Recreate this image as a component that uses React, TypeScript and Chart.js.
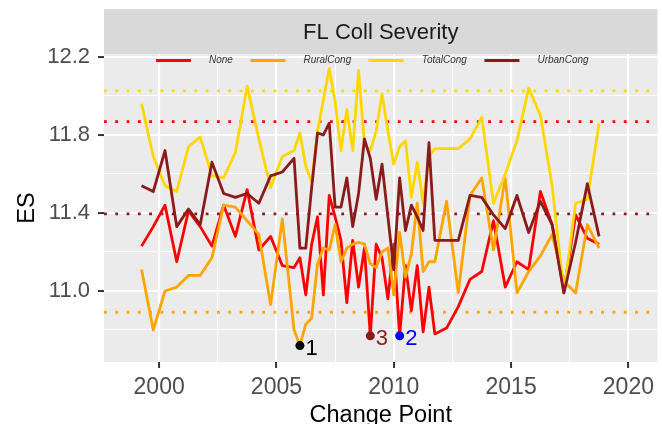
import React, { useEffect, useRef } from 'react';
import { Chart, registerables } from 'chart.js';

Chart.register(...registerables);

// ---------- data ----------
const years = [
  1999.25, 1999.75, 2000.25, 2000.75, 2001.25, 2001.75, 2002.25, 2002.75, 2003.25, 2003.75,
  2004.25, 2004.75, 2005.25, 2005.75,
  2006.0, 2006.25, 2006.5, 2006.75, 2007.0, 2007.25, 2007.5, 2007.75, 2008.0, 2008.25,
  2008.5, 2008.75, 2009.0, 2009.25, 2009.5, 2009.75, 2010.0, 2010.25, 2010.5, 2010.75,
  2011.0, 2011.25, 2011.5, 2011.75,
  2012.25, 2012.75, 2013.25, 2013.75, 2014.25, 2014.75, 2015.25, 2015.75, 2016.25, 2016.75,
  2017.25, 2017.75, 2018.25, 2018.75,
];

const noneValues = [
  11.23, 11.33, 11.44, 11.15, 11.41, 11.33, 11.23, 11.44, 11.28, 11.52, 11.21, 11.28, 11.13, 11.12,
  11.17, 10.98, 11.24, 11.38, 10.98, 11.49, 11.38, 11.26, 10.94, 11.26, 11.02, 11.22, 10.77, 11.24,
  11.17, 10.96, 11.24, 10.77, 11.13, 10.90, 11.13, 10.79, 11.02, 10.78,
  10.81, 10.92, 11.06, 11.10, 11.36, 11.02, 11.15, 11.11, 11.51, 11.34, 11.00, 11.39, 11.27, 11.24,
];

const ruralValues = [
  11.11, 10.80, 11.00, 11.02, 11.08, 11.08, 11.17, 11.44, 11.43, 11.36, 11.29, 10.93, 11.37, 10.80,
  10.72, 10.83, 10.86, 11.14, 11.22, 11.21, 11.34, 11.15, 11.22, 11.24, 11.25, 11.24, 11.14, 11.12,
  11.20, 11.22, 10.98, 11.30, 11.07, 11.19, 11.45, 11.10, 11.15, 11.15,
  11.46, 10.99, 11.49, 11.58, 11.21, 11.58, 10.99, 11.10, 11.18, 11.29, 11.05, 10.99, 11.34, 11.22,
];

const totalValues = [
  11.96, 11.69, 11.54, 11.51, 11.74, 11.79, 11.59, 11.58, 11.71, 12.05, 11.78, 11.53, 11.69, 11.72,
  11.81, 11.64, 11.56, 11.82, 11.98, 12.14, 11.97, 11.72, 11.93, 11.72, 12.13, 11.75, 11.72, 11.82,
  12.01, 11.82, 11.65, 11.74, 11.77, 11.48, 11.66, 11.45, 11.69, 11.73,
  11.73, 11.73, 11.78, 11.89, 11.45, 11.60, 11.77, 12.04, 11.90, 11.54, 10.99, 11.45, 11.47, 11.86,
];

const urbanValues = [
  11.54, 11.51, 11.72, 11.33, 11.42, 11.34, 11.66, 11.50, 11.48, 11.50, 11.45, 11.59, 11.61, 11.68,
  11.22, 11.22, 11.53, 11.81, 11.80, 11.86, 11.43, 11.43, 11.58, 11.33, 11.50, 11.78, 11.68, 11.47,
  11.65, 11.38, 11.11, 11.58, 11.31, 11.44, 11.38, 11.31, 11.76, 11.26,
  11.26, 11.26, 11.49, 11.48, 11.39, 11.32, 11.49, 11.30, 11.46, 11.34, 10.99, 11.25, 11.55, 11.28,
];

const seriesNames = ['None', 'RuralCong', 'TotalCong', 'UrbanCong'];
const seriesColors = ['#FF0000', '#FFA500', '#FFD700', '#8B1A1A'];
// dotted reference level per series (same order as seriesNames)
const refLevels = [11.868, 10.891, 12.026, 11.395];

const markedYears = [2006.0, 2010.25, 2009.0];
const markedValues = [10.72, 10.77, 10.77];
const markedLabels = ['1', '2', '3'];
const markedColors = ['#000000', '#0000FF', '#8B1A1A'];

const xRange = [1997.65, 2021.24];
const yRange = [10.636, 12.215];
// grid positions (major ones carry labels)
const xGridValues = [2000, 2002.5, 2005, 2007.5, 2010, 2012.5, 2015, 2017.5, 2020];
const xTickLabels = ['2000', '', '2005', '', '2010', '', '2015', '', '2020'];
const yGridValues = [10.8, 11.0, 11.2, 11.4, 11.6, 11.8, 12.0, 12.2];
const yTickLabels = ['', '11.0', '', '11.4', '', '11.8', '', '12.2'];

const stripTitle = 'FL Coll Severity';
const xTitle = 'Change Point';
const yTitle = 'ES';

// ---------- styling ----------
const FONT = "'Liberation Sans', Arial, sans-serif";
const STRIP_TOP = 9;

const decorPlugin = {
  id: 'decor',
  beforeDraw(chart: any) {
    const { ctx, chartArea: a } = chart;
    ctx.save();
    ctx.fillStyle = '#EBEBEB';
    ctx.fillRect(a.left, a.top, a.right - a.left, a.bottom - a.top);
    ctx.fillStyle = '#D9D9D9';
    ctx.fillRect(a.left, STRIP_TOP, a.right - a.left, a.top - STRIP_TOP);
    ctx.fillStyle = '#1A1A1A';
    ctx.font = `22px ${FONT}`;
    ctx.textAlign = 'center';
    ctx.textBaseline = 'middle';
    ctx.fillText(stripTitle, (a.left + a.right) / 2, (STRIP_TOP + a.top) / 2 + 1);

    ctx.fillStyle = '#000000';
    ctx.font = `23.5px ${FONT}`;
    ctx.textBaseline = 'alphabetic';
    ctx.fillText(xTitle, (a.left + a.right) / 2, 421.5);
    ctx.save();
    ctx.translate(28, (a.top + a.bottom) / 2);
    ctx.rotate(-Math.PI / 2);
    ctx.textBaseline = 'middle';
    ctx.fillText(yTitle, 0, 0);
    ctx.restore();
    ctx.restore();
  },
  afterDatasetsDraw(chart: any) {
    const { ctx } = chart;
    const xs = chart.scales.x;
    const ys = chart.scales.y;
    ctx.save();
    // marked point labels
    ctx.font = `22px ${FONT}`;
    ctx.textAlign = 'left';
    ctx.textBaseline = 'alphabetic';
    markedLabels.forEach((lab, i) => {
      const px = xs.getPixelForValue(markedYears[i]);
      const py = ys.getPixelForValue(markedValues[i]);
      ctx.fillStyle = markedColors[i];
      ctx.fillText(lab, px + 5.5, py + 9);
    });
    // legend
    let x = 156;
    const y = 60.5;
    ctx.font = `italic 10px ${FONT}`;
    ctx.textBaseline = 'middle';
    seriesNames.forEach((name, i) => {
      ctx.strokeStyle = seriesColors[i];
      ctx.lineWidth = 2.8;
      ctx.lineCap = 'butt';
      ctx.beginPath();
      ctx.moveTo(x, y);
      ctx.lineTo(x + 35, y);
      ctx.stroke();
      const tx = x + 35 + 18;
      ctx.fillStyle = '#333333';
      ctx.fillText(name, tx, y);
      x = tx + ctx.measureText(name).width + 17.5;
    });
    ctx.restore();
  },
};

const isLabelled = (labels: string[], i: number) => !!labels[i];

export default function App() {
  const ref = useRef<HTMLCanvasElement>(null);

  useEffect(() => {
    const canvas = ref.current;
    if (!canvas) return;
    const seriesValues = [noneValues, ruralValues, totalValues, urbanValues];

    const lineSets = seriesNames.map((name, s) => ({
      type: 'line',
      label: name,
      data: years.map((x, i) => ({ x, y: seriesValues[s][i] })),
      borderColor: seriesColors[s],
      borderWidth: 2.8,
      borderJoinStyle: 'round',
      pointRadius: 0,
      tension: 0,
      fill: false,
      order: 4 - s,
    }));

    const refSets = refLevels.map((v, s) => ({
      type: 'line',
      label: 'ref ' + seriesNames[s],
      data: [
        { x: xRange[0], y: v },
        { x: xRange[1], y: v },
      ],
      borderColor: seriesColors[s],
      borderWidth: 2.8,
      borderDash: [2.8, 8.5],
      borderCapStyle: 'butt',
      pointRadius: 0,
      fill: false,
      order: 6,
    }));

    const pointSet = {
      type: 'scatter',
      label: 'marked',
      data: markedYears.map((x, i) => ({ x, y: markedValues[i] })),
      pointRadius: 4.5,
      pointBackgroundColor: markedColors,
      pointBorderColor: markedColors,
      pointBorderWidth: 0,
      showLine: false,
      order: 0,
    };

    const chart = new Chart(canvas, {
      type: 'line',
      data: { datasets: [...lineSets, ...refSets, pointSet] as any },
      options: {
        responsive: false,
        maintainAspectRatio: false,
        animation: false,
        devicePixelRatio: 1,
        events: [],
        layout: { padding: { top: 54, left: 0, right: 0, bottom: 0 } },
        plugins: {
          legend: { display: false },
          tooltip: { enabled: false },
          title: { display: false },
        },
        scales: {
          x: {
            type: 'linear',
            min: xRange[0],
            max: xRange[1],
            bounds: 'data',
            afterBuildTicks: (s: any) => {
              s.ticks = xGridValues.map((value) => ({ value }));
            },
            afterFit: (s: any) => {
              s.height = 62;
            },
            border: { display: false },
            grid: {
              color: '#FFFFFF',
              lineWidth: (c: any) => (isLabelled(xTickLabels, c.index) ? 2.1 : 1.05),
              drawTicks: true,
              tickLength: 6,
              tickWidth: 2,
              tickColor: (c: any) => (isLabelled(xTickLabels, c.index) ? '#333333' : 'rgba(0,0,0,0)'),
            },
            ticks: {
              autoSkip: false,
              maxRotation: 0,
              padding: 5.5,
              color: '#4D4D4D',
              font: { family: FONT, size: 23 },
              callback: (_v: any, i: number) => xTickLabels[i],
            },
          },
          y: {
            type: 'linear',
            min: yRange[0],
            max: yRange[1],
            bounds: 'data',
            afterBuildTicks: (s: any) => {
              s.ticks = yGridValues.map((value) => ({ value }));
            },
            afterFit: (s: any) => {
              s.width = 104;
            },
            border: { display: false },
            grid: {
              color: '#FFFFFF',
              lineWidth: (c: any) => (isLabelled(yTickLabels, c.index) ? 2.1 : 1.05),
              drawTicks: true,
              tickLength: 6,
              tickWidth: 2,
              tickColor: (c: any) => (isLabelled(yTickLabels, c.index) ? '#333333' : 'rgba(0,0,0,0)'),
            },
            ticks: {
              autoSkip: false,
              padding: 8,
              color: '#4D4D4D',
              font: { family: FONT, size: 22 },
              callback: (_v: any, i: number) => yTickLabels[i],
            },
          },
        },
      } as any,
      plugins: [decorPlugin as any],
    });

    return () => {
      chart.destroy();
    };
  }, []);

  return (
    <div style={{ position: 'fixed', left: 0, top: 0, width: 662, height: 424, background: '#FFFFFF' }}>
      <canvas ref={ref} width={662} height={424} style={{ display: 'block' }} />
    </div>
  );
}
